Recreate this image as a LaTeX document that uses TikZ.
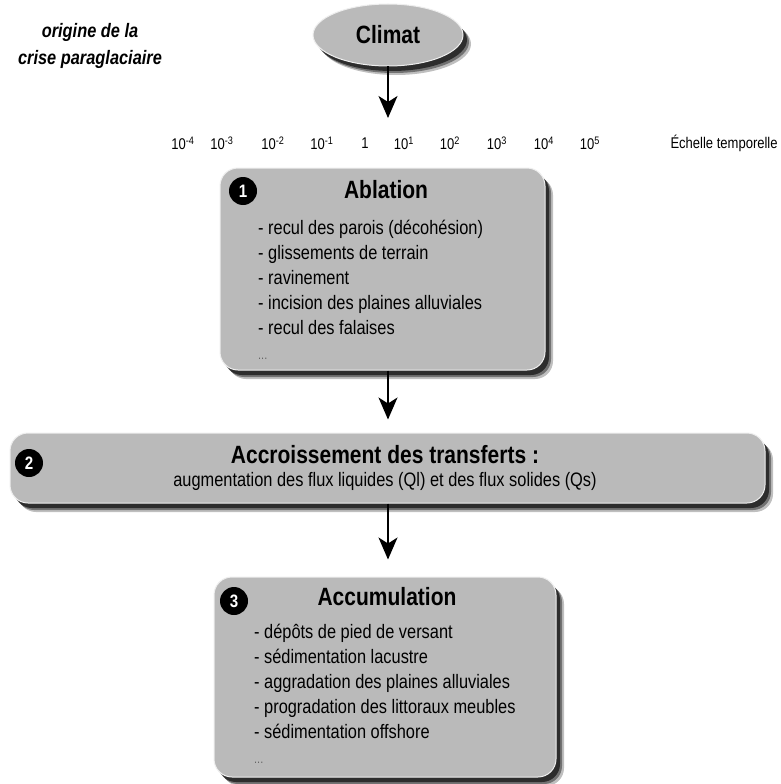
\documentclass[tikz,border=0pt]{standalone}
\usepackage{fontspec}
\setmainfont{Liberation Sans}[FakeStretch=0.84]
\usepackage{tikz}
\usetikzlibrary{shapes.geometric, arrows.meta, positioning, calc, shadows}
\definecolor{ParaGray}{RGB}{186, 186, 186}
\definecolor{ParaEdge}{RGB}{238, 238, 238}
\tikzset{
  paraShadow/.style={
    drop shadow={shadow xshift=8pt, shadow yshift=-9pt, opacity=0.25, fill=black},
    drop shadow={shadow xshift=6pt, shadow yshift=-7pt, opacity=0.4, fill=black},
    drop shadow={shadow xshift=4pt, shadow yshift=-5pt, opacity=0.6, fill=black}},
  stagebox/.style={rounded corners=18pt, fill=ParaGray, draw=ParaEdge, line width=1pt, paraShadow},
  badge/.style={circle, fill=black, text=white, minimum size=28pt, inner sep=0pt,
    font=\fontsize{18}{18}\selectfont\bfseries},
  stagetitle/.style={font=\fontsize{25}{28}\selectfont\bfseries},
  itemlist/.style={anchor=north west, align=left, inner sep=0pt, font=\fontsize{19.5}{25}\selectfont},
  scalelab/.style={font=\fontsize{15.5}{15.5}\selectfont},
  flow/.style={line width=1.6pt, -{Stealth[length=22pt, width=19pt, inset=6pt]}}
}
\begin{document}
\begin{tikzpicture}[x=1pt, y=-1pt]
  \useasboundingbox[fill=white] (0,0) rectangle (780,784);

  \node[align=center, font=\fontsize{19.5}{27}\selectfont\bfseries\itshape] (origine) at (90,46)
    {origine de la\\crise paraglaciaire};

  \node[ellipse, fill=ParaGray, draw=ParaEdge, line width=1pt, paraShadow,
        minimum width=150pt, minimum height=62pt, font=\fontsize{25}{25}\selectfont\bfseries]
        (climat) at (388,35) {Climat};
  \coordinate (climEnd) at (388,118);

  % echelle temporelle
  \node[scalelab] (t0) at (365,143) {1};
  \foreach \e/\px in {-4/183, -3/222, -2/273, -1/322, 1/404, 2/450, 3/497, 4/544, 5/590}
    \node[scalelab] (t\e) at (\px,143) {10\textsuperscript{\e}};
  \node[scalelab, anchor=west] (echelle) at (667,143) {Échelle temporelle};

  % 1
  \node[stagebox, minimum width=325pt, minimum height=202pt] (abl) at (382.5,269) {};
  \node[badge] (b1) at (243,191) {1};
  \node[stagetitle] (ablTitle) at (386,190) {Ablation};
  \node[itemlist] (ablList) at (258,220) {%
    - recul des parois (décohésion)\\
    - glissements de terrain\\
    - ravinement\\
    - incision des plaines alluviales\\
    - recul des falaises\\
    {\color{black!60}\fontsize{13}{25}\selectfont ...}};

  % 2
  \node[stagebox, minimum width=755pt, minimum height=70pt] (transf) at (387.5,468) {};
  \node[badge] (b2) at (29,463) {2};
  \node[stagetitle] (transfTitle) at (385,455) {Accroissement des transferts :};
  \node[font=\fontsize{19.5}{19.5}\selectfont] (transfSub) at (385,481)
    {augmentation des flux liquides (Ql) et des flux solides (Qs)};

  % 3
  \node[stagebox, minimum width=342pt, minimum height=200pt] (accu) at (385,677) {};
  \node[badge] (b3) at (234,601) {3};
  \node[stagetitle] (accuTitle) at (387,597) {Accumulation};
  \node[itemlist] (accuList) at (254,624) {%
    - dépôts de pied de versant\\
    - sédimentation lacustre\\
    - aggradation des plaines alluviales\\
    - progradation des littoraux meubles\\
    - sédimentation offshore\\
    {\color{black!60}\fontsize{13}{25}\selectfont ...}};

  \draw[flow] (climat.south) -- (climEnd);
  \draw[flow, shorten >=13pt] (abl.south -| climat) -- (transf.north -| climat);
  \draw[flow, shorten >=17pt] (transf.south -| climat) -- (accu.north -| climat);
\end{tikzpicture}
\end{document}
